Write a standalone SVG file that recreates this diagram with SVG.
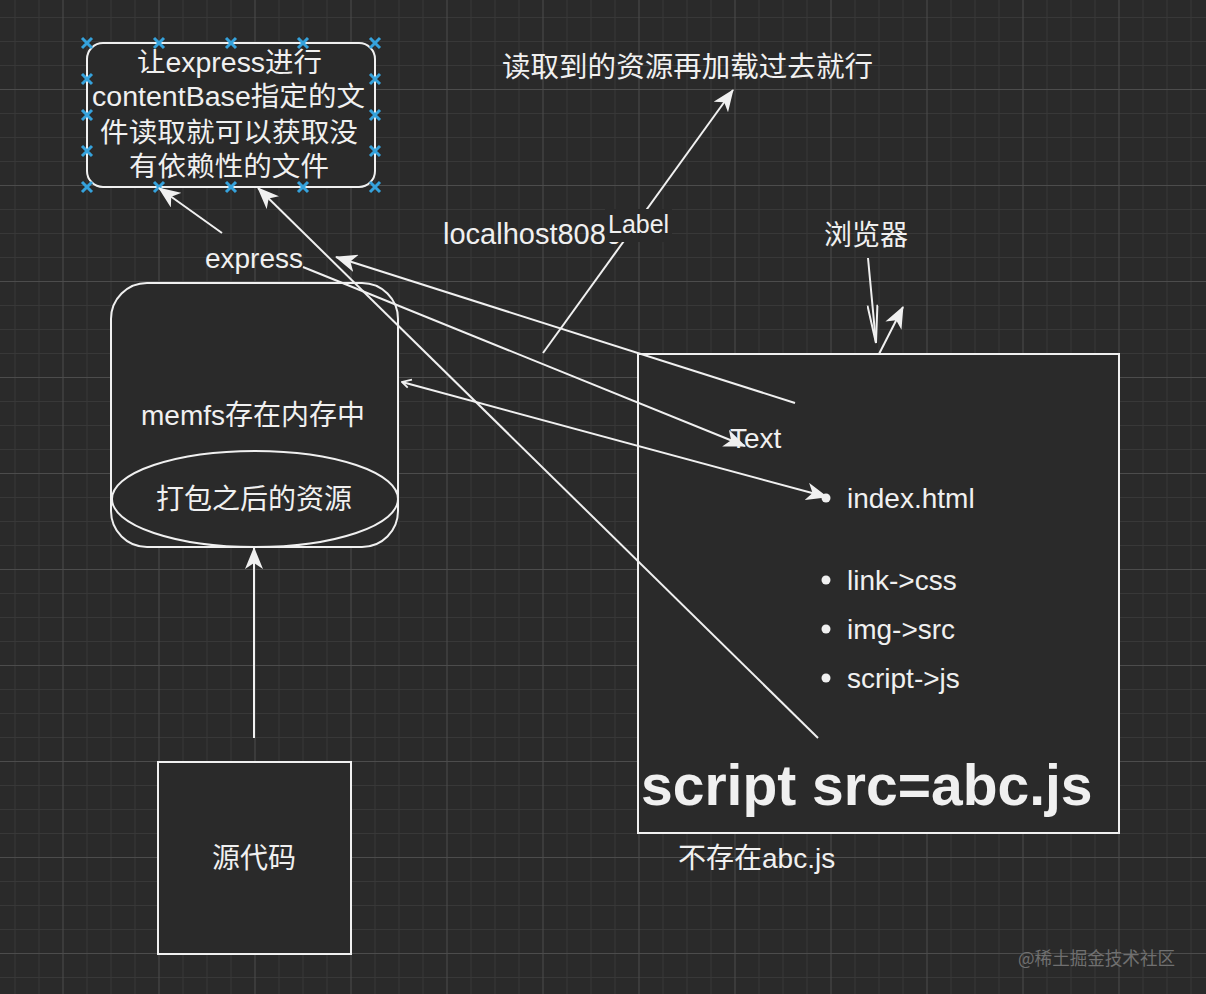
<svg xmlns="http://www.w3.org/2000/svg" width="1206" height="994" viewBox="0 0 1206 994">
<defs>
<pattern id="grid" patternUnits="userSpaceOnUse" x="62.5" y="89" width="96" height="96">
<path d="M24.5,0V96M48.5,0V96M72.5,0V96M0,24.5H96M0,48.5H96M0,72.5H96" stroke="#383838" stroke-width="1" fill="none"/>
<path d="M0.5,0V96M0,0.5H96" stroke="#4c4c4c" stroke-width="1" fill="none"/>
</pattern>
<marker id="arr" viewBox="0 0 22 18" refX="21" refY="9" markerWidth="22" markerHeight="18" markerUnits="userSpaceOnUse" orient="auto">
<path d="M22,9 L0,0 L6,9 L0,18 Z" fill="#f0f0f0"/>
</marker>
<marker id="open" viewBox="0 0 40 12" refX="39" refY="6" markerWidth="40" markerHeight="12" markerUnits="userSpaceOnUse" orient="auto">
<path d="M1,1 L39,6 L1,11" fill="none" stroke="#f0f0f0" stroke-width="2"/>
</marker>
<marker id="hook" viewBox="0 0 12 12" refX="1" refY="6" markerWidth="12" markerHeight="12" markerUnits="userSpaceOnUse" orient="auto">
<path d="M10,1 L1,6 L8,10" fill="none" stroke="#f0f0f0" stroke-width="1.8"/>
</marker>
</defs>
<style>
.shape{fill:#2a2a2a;stroke:#f0f0f0;stroke-width:2}
.t{fill:#f0f0f0;font-family:"Liberation Sans","Noto Sans CJK SC",sans-serif;font-size:28px}
.c{text-anchor:middle}
.conn{fill:none;stroke:#f0f0f0;stroke-width:2}
.h{stroke:#35a2dc;stroke-width:3;fill:none}
</style>
<rect x="0" y="0" width="1206" height="994" fill="#2a2a2a"/>
<rect x="0" y="0" width="1206" height="994" fill="url(#grid)"/>

<g id="node-contentbase">
<rect class="shape" x="87" y="43" width="288" height="144" rx="16"/>
<text class="t" style="font-size:27px"><tspan x="137" y="72" textLength="185" lengthAdjust="spacingAndGlyphs">让express进行</tspan><tspan x="92" y="106" textLength="273" lengthAdjust="spacingAndGlyphs">contentBase指定的文</tspan><tspan x="100" y="142" textLength="258" lengthAdjust="spacingAndGlyphs">件读取就可以获取没</tspan><tspan x="129" y="176" textLength="200" lengthAdjust="spacingAndGlyphs">有依赖性的文件</tspan></text>
<path class="h" d="M82,38l10,10m0,-10l-10,10M154,38l10,10m0,-10l-10,10M226,38l10,10m0,-10l-10,10M298,38l10,10m0,-10l-10,10M370,38l10,10m0,-10l-10,10M82,182l10,10m0,-10l-10,10M154,182l10,10m0,-10l-10,10M226,182l10,10m0,-10l-10,10M298,182l10,10m0,-10l-10,10M370,182l10,10m0,-10l-10,10M82,74l10,10m0,-10l-10,10M82,110l10,10m0,-10l-10,10M82,146l10,10m0,-10l-10,10M370,74l10,10m0,-10l-10,10M370,110l10,10m0,-10l-10,10M370,146l10,10m0,-10l-10,10"/>
</g>

<g id="node-memfs">
<rect class="shape" x="111" y="283" width="287" height="264" rx="36"/>
<ellipse class="shape" cx="255" cy="499" rx="143" ry="48"/>
<text class="t c" x="253" y="425">memfs存在内存中</text>
<text class="t c" x="254" y="509">打包之后的资源</text>
</g>

<g id="node-source">
<rect class="shape" x="158" y="762" width="193" height="192"/>
<text class="t c" x="254" y="868">源代码</text>
</g>

<g id="node-browser">
<rect class="shape" x="638" y="354" width="481" height="479"/>
<circle cx="826" cy="498" r="4.5" fill="#f0f0f0"/>
<circle cx="826" cy="580" r="4.5" fill="#f0f0f0"/>
<circle cx="826" cy="629" r="4.5" fill="#f0f0f0"/>
<circle cx="826" cy="678" r="4.5" fill="#f0f0f0"/>
<text class="t" x="847" y="508">index.html</text>
<text class="t" x="847" y="590">link-&gt;css</text>
<text class="t" x="847" y="639">img-&gt;src</text>
<text class="t" x="847" y="688">script-&gt;js</text>
<text class="t" x="641" y="805" style="font-size:57px;font-weight:bold">script src=abc.js</text>
</g>

<g id="label-express"><text class="t c" x="254" y="268">express</text></g>
<g id="label-localhost"><text class="t" x="443" y="244" style="font-size:29px">localhost8080</text></g>
<g id="label-reload"><text class="t" x="502" y="77" textLength="371" lengthAdjust="spacingAndGlyphs">读取到的资源再加载过去就行</text></g>
<g id="label-browser"><text class="t c" x="866" y="245">浏览器</text></g>
<g id="label-missing"><text class="t" x="678" y="868">不存在abc.js</text></g>

<g id="connectors">
<line class="conn" x1="254" y1="738" x2="254" y2="548" marker-end="url(#arr)"/>
<line class="conn" x1="222" y1="233" x2="159" y2="188" marker-end="url(#arr)"/>
<line class="conn" x1="818" y1="738" x2="258" y2="188" marker-end="url(#arr)"/>
<line class="conn" x1="795" y1="403" x2="336" y2="257" marker-end="url(#arr)"/>
<line class="conn" x1="303" y1="267" x2="745" y2="446" marker-end="url(#arr)"/>
<line class="conn" x1="402" y1="382" x2="827" y2="497" marker-start="url(#hook)" marker-end="url(#arr)"/>
<line class="conn" x1="543" y1="353" x2="733" y2="90" marker-end="url(#arr)"/>
<line class="conn" x1="868" y1="258" x2="876" y2="343" marker-end="url(#open)"/>
<line class="conn" x1="879" y1="354" x2="903" y2="307" marker-end="url(#arr)"/>
<rect x="605" y="209" width="67" height="33" fill="#2a2a2a"/>
<text class="t" x="608" y="233" style="font-size:25px">Label</text>
<text class="t" x="730" y="448">Text</text>
</g>

<text x="1018" y="965" textLength="157" lengthAdjust="spacingAndGlyphs" style="font-family:'Noto Sans CJK SC',sans-serif;font-size:18px;fill:#707070">@稀土掘金技术社区</text>
</svg>
